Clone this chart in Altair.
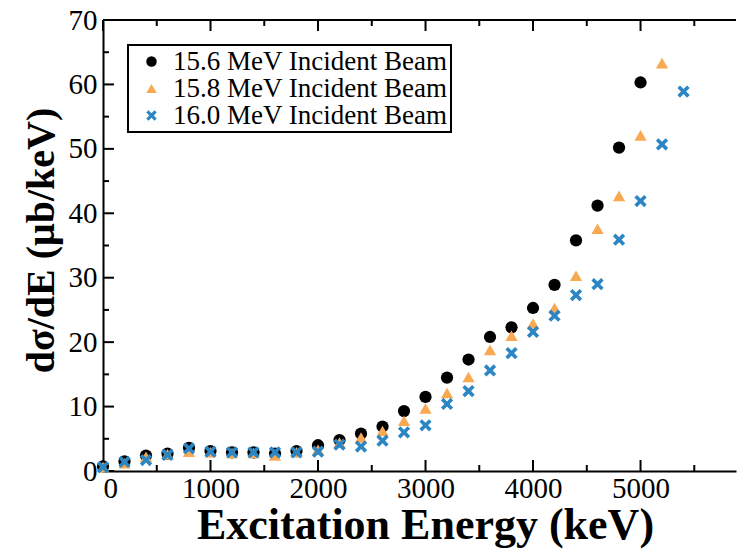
import altair as alt
import pandas as pd

# Differential cross section dσ/dE versus excitation energy, three beam energies
series_names = ["15.6 MeV Incident Beam", "15.8 MeV Incident Beam", "16.0 MeV Incident Beam"]

energy_156 = [0, 200, 400, 600, 800, 1000, 1200, 1400, 1600, 1800, 2000, 2200, 2400,
              2600, 2800, 3000, 3200, 3400, 3600, 3800, 4000, 4200, 4400, 4600, 4800, 5000]
xsec_156 = [0.7, 1.5, 2.4, 2.7, 3.6, 3.1, 2.9, 2.9, 2.7, 3.1, 4.0, 4.8, 5.8,
            6.9, 9.3, 11.5, 14.5, 17.3, 20.8, 22.3, 25.3, 28.9, 35.8, 41.2, 50.2, 60.3]

energy_158 = [0, 200, 400, 600, 800, 1000, 1200, 1400, 1600, 1800, 2000, 2200, 2400,
              2600, 2800, 3000, 3200, 3400, 3600, 3800, 4000, 4200, 4400, 4600, 4800, 5000, 5200]
xsec_158 = [0.6, 1.2, 2.2, 2.6, 3.0, 2.9, 2.8, 2.8, 2.4, 2.9, 3.3, 4.4, 5.2,
            6.2, 7.8, 9.7, 12.1, 14.6, 18.8, 21.0, 22.9, 25.3, 30.3, 37.6, 42.7, 52.1, 63.3]

energy_160 = [0, 200, 400, 600, 800, 1000, 1200, 1400, 1600, 1800, 2000, 2200, 2400,
              2600, 2800, 3000, 3200, 3400, 3600, 3800, 4000, 4200, 4400, 4600, 4800, 5000, 5200, 5400]
xsec_160 = [0.6, 1.4, 1.7, 2.5, 3.5, 3.0, 2.9, 2.9, 2.9, 2.9, 3.0, 4.1, 3.8,
            4.7, 6.0, 7.1, 10.4, 12.4, 15.6, 18.3, 21.6, 24.1, 27.3, 29.0, 35.9, 41.9, 50.7, 58.9]

x_major_ticks = [0, 1000, 2000, 3000, 4000, 5000]
x_minor_ticks = [500, 1500, 2500, 3500, 4500, 5500]
y_major_ticks = [0, 10, 20, 30, 40, 50, 60, 70]
y_minor_ticks = [5, 15, 25, 35, 45, 55, 65]

X_MAX = 5888
W, H = 633, 451
FONT = "Liberation Serif"
colors = ["#000000", "#F8A952", "#2B86C3"]

# thick "x" marker as a polygon in the unit square
d = 0.42
x_marker = (f"M0,{-d}L{1-d},-1L1,{-1+d}L{d},0L1,{1-d}L{1-d},1L0,{d}"
            f"L{-1+d},1L-1,{1-d}L{-d},0L-1,{-1+d}L{-1+d},-1Z")
shapes = ["circle", "triangle-up", x_marker]

frames = []
for i, (name, xs, ys) in enumerate([(series_names[0], energy_156, xsec_156),
                                    (series_names[1], energy_158, xsec_158),
                                    (series_names[2], energy_160, xsec_160)]):
    frames.append(pd.DataFrame({"energy": xs, "xsec": ys, "beam": name, "idx": i}))
data = pd.concat(frames, ignore_index=True)

x_scale = alt.Scale(domain=[0, X_MAX], nice=False, zero=False)
y_scale = alt.Scale(domain=[0, 70], nice=False)

points = alt.Chart(data).mark_point(filled=True, size=150, opacity=1, strokeWidth=0).encode(
    x=alt.X("energy:Q", scale=x_scale,
            axis=alt.Axis(values=x_major_ticks, format="d", title="Excitation Energy (keV)",
                          titleX=322, titleY=67, titleAlign="center",
                          titleBaseline="alphabetic")),
    y=alt.Y("xsec:Q", scale=y_scale,
            axis=alt.Axis(values=y_major_ticks, format="d", title="dσ/dE (μb/keV)",
                          titleFontSize=40, titleAngle=270, titleX=-62, titleY=220,
                          titleAlign="center", titleBaseline="middle")),
    color=alt.Color("beam:N", scale=alt.Scale(domain=series_names, range=colors),
                    legend=alt.Legend(title=None, orient="none", legendX=25, legendY=25)),
    shape=alt.Shape("beam:N", scale=alt.Scale(domain=series_names, range=shapes)),
    order=alt.Order("idx:Q"),
)

# inward tick marks on bottom, top and left edges
xt_major = pd.DataFrame({"t": x_major_ticks})
xt_minor = pd.DataFrame({"t": x_minor_ticks})
yt_major = pd.DataFrame({"t": y_major_ticks})
yt_minor = pd.DataFrame({"t": y_minor_ticks})

def xticks(df, length):
    base = alt.Chart(df).mark_rule(color="black", strokeWidth=2)
    bottom = base.encode(x=alt.X("t:Q", scale=x_scale), y=alt.value(H), y2=alt.value(H - length))
    top = base.encode(x=alt.X("t:Q", scale=x_scale), y=alt.value(0), y2=alt.value(length))
    return bottom + top

def yticks(df, length):
    return alt.Chart(df).mark_rule(color="black", strokeWidth=2).encode(
        y=alt.Y("t:Q", scale=y_scale), x=alt.value(0), x2=alt.value(length))

top_line = alt.Chart(xt_major).mark_rule(color="black", strokeWidth=2).encode(
    x=alt.value(0), x2=alt.value(W), y=alt.value(0))

chart = alt.layer(
    xticks(xt_major, 11), xticks(xt_minor, 6), yticks(yt_major, 11), yticks(yt_minor, 6),
    top_line, points,
).properties(
    width=W, height=H,
    autosize=alt.AutoSizeParams(type="none"),
    padding={"left": 103, "top": 20, "right": 2, "bottom": 79},
).configure(font=FONT).configure_view(stroke=None).configure_axis(
    grid=False, ticks=False, tickSize=0, domainColor="black", domainWidth=2,
    labelFont=FONT, labelFontSize=29, labelColor="black", labelPadding=4,
    titleFont=FONT, titleFontSize=44, titleFontWeight="bold", titleColor="black",
).configure_axisX(labelPadding=3).configure_axisY(labelPadding=6).configure_legend(
    labelFont=FONT, labelFontSize=27, labelColor="black", labelLimit=400,
    symbolSize=110, symbolStrokeWidth=0, symbolOffset=7, labelOffset=8,
    padding=3, rowPadding=-5, strokeColor="black", fillColor="white", strokeWidth=2,
)

chart.save("out.html", embed_options={"renderer": "svg", "actions": False})
